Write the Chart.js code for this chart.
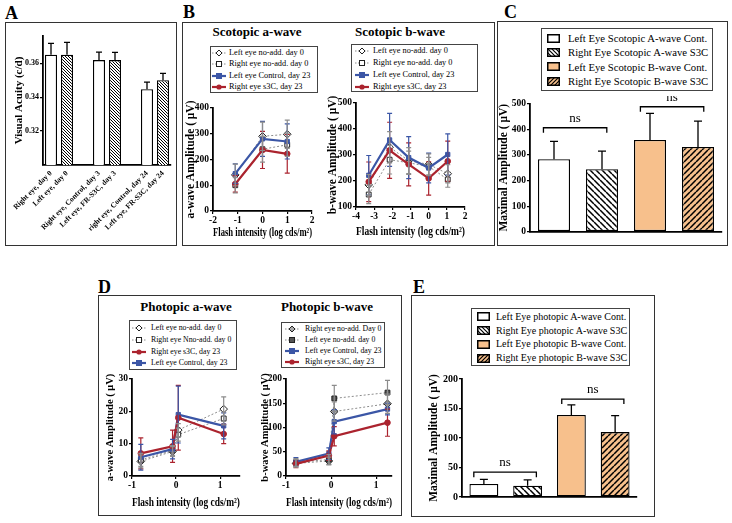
<!DOCTYPE html>
<html>
<head>
<meta charset="utf-8">
<script src="https://cdn.jsdelivr.net/npm/chart.js@4.4.1/dist/chart.umd.min.js"></script>
<style>
  body { margin: 0; background: #fff; }
  #fig { position: relative; width: 732px; height: 523px; overflow: hidden; background: #fff;
         font-family: "Liberation Serif", "Times New Roman", serif; color: #000; }
  .box { position: absolute; border: 1px solid #333; box-sizing: border-box; }
  .letter { position: absolute; font-weight: bold; font-size: 18px; line-height: 1; }
  .title { position: absolute; font-weight: bold; font-size: 13px; line-height: 1; white-space: nowrap; transform: translate(-50%, -50%); }
  .legend { position: absolute; border: 1px solid #444; box-sizing: border-box; background: #fff; }
  canvas { position: absolute; }
</style>
</head>
<body>
<div id="fig">
  <div class="box" style="left:5px;top:22px;width:172px;height:224px"></div>
  <div class="box" style="left:182px;top:22px;width:313px;height:224px"></div>
  <div class="box" style="left:497px;top:21px;width:231px;height:225px"></div>
  <div class="box" style="left:98px;top:295px;width:304px;height:221px"></div>
  <div class="box" style="left:411px;top:295px;width:244px;height:222px"></div>

  <div class="letter" style="left:5px;top:4px">A</div>
  <div class="letter" style="left:183px;top:3px">B</div>
  <div class="letter" style="left:504px;top:3px">C</div>
  <div class="letter" style="left:98px;top:278px">D</div>
  <div class="letter" style="left:413px;top:278px">E</div>

  <div class="title" style="left:257px;top:31px">Scotopic a-wave</div>
  <div class="title" style="left:400px;top:31px">Scotopic b-wave</div>
  <div class="title" style="left:186px;top:306px">Photopic a-wave</div>
  <div class="title" style="left:327px;top:306px">Photopic b-wave</div>
</div>
<script>
// ---------------- data ----------------
// A: visual acuity
const acuityCats = ['Right eye, day 0', 'Left eye, day 0', '', 'Right eye, Control, day 3', 'Left eye, FR-S3C, day 3', '', 'right eye, Control, day 24', 'Left eye, FR-S3C, day 24'];
const acuityMean = [0.365, 0.365, null, 0.3618, 0.3618, null, 0.3447, 0.350];
const acuityErr = [0.0067, 0.0072, null, 0.0047, 0.0045, null, 0.0041, 0.0040];
const acuityTicks = [0.32, 0.34, 0.36];

// B: scotopic a-wave
const scoAX = [-1.1, 0, 1];
const scoALeftNoAdd = [140, 290, 298];
const scoALeftNoAddErr = [42, 55, 55];
const scoARightNoAdd = [100, 240, 257];
const scoARightNoAddErr = [30, 50, 45];
const scoALeftControl = [145, 280, 270];
const scoALeftControlErr = [38, 68, 68];
const scoARightS3C = [105, 237, 222];
const scoARightS3CErr = [32, 72, 75];
const scoAXTicks = [-2, -1, 0, 1, 2];
const scoAYTicks = [0, 100, 200, 300, 400];

// B: scotopic b-wave
const scoBX = [-3.3, -2.15, -1.1, 0, 1.05];
const scoBLeftNoAdd = [185, 330, 278, 264, 228];
const scoBLeftNoAddErr = [40, 60, 50, 40, 35];
const scoBRightNoAdd = [148, 282, 270, 256, 206];
const scoBRightNoAddErr = [35, 55, 45, 35, 30];
const scoBLeftControl = [222, 358, 290, 250, 302];
const scoBLeftControlErr = [76, 102, 81, 57, 79];
const scoBRightS3C = [197, 318, 264, 210, 276];
const scoBRightS3CErr = [76, 108, 83, 64, 77];
const scoBXTicks = [-4, -3, -2, -1, 0, 1, 2];
const scoBYTicks = [100, 200, 300, 400, 500];

// C: scotopic maximal amplitude
const scoBarNames = ['Left Eye Scotopic A-wave Cont.', 'Right Eye Scotopic A-wave S3C', 'Left Eye Scotopic B-wave Cont.', 'Right Eye Scotopic B-wave S3C'];
const scoBarMean = [283, 244, 358, 331];
const scoBarErr = [70, 71, 104, 101];
const scoBarTicks = [0, 100, 200, 300, 400, 500];
const scoBrackets = [[-0.22, 1.1, 406], [1.8, 3.12, 488]];

// D: photopic a-wave
const phoAX = [-0.8, -0.08, 0.05, 1.08];
const phoALeftNoAdd = [4.5, 7.6, 14.2, 20.7];
const phoALeftNoAddErr = [2, 1.5, 2, 3.8];
const phoARightNoAdd = [5.0, 7.9, 12.8, 17.8];
const phoARightNoAddErr = [2, 1.5, 2, 2];
const phoARightS3C = [7.0, 9.2, 18.0, 13.0];
const phoARightS3CErr = [4.8, 5, 10, 3];
const phoALeftControl = [5.8, 8.3, 19.0, 15.5];
const phoALeftControlErr = [4, 3, 8.8, 4];
const phoAXTicks = [-1, 0, 1];
const phoAYTicks = [0, 10, 20, 30];

// D: photopic b-wave
const phoBX = [-0.78, -0.05, 0.07, 1.25];
const phoBRightNoAdd = [26, 31, 133, 149];
const phoBRightNoAddErr = [8, 8, 20, 20];
const phoBLeftNoAdd = [28, 34, 160, 172];
const phoBLeftNoAddErr = [8, 10, 27, 25];
const phoBLeftControl = [29, 46, 112, 138];
const phoBLeftControlErr = [9, 12, 25, 12];
const phoBRightS3C = [25, 42, 82, 110];
const phoBRightS3CErr = [8, 10, 20, 28];
const phoBXTicks = [-1, 0, 1];
const phoBYTicks = [0, 50, 100, 150, 200];

// E: photopic maximal amplitude
const phoBarNames = ['Left Eye photopic A-wave Cont.', 'Right Eye photopic A-wave S3C', 'Left Eye photopic B-wave Cont.', 'Right Eye photopic B-wave S3C'];
const phoBarMean = [22, 19, 139, 110];
const phoBarErr = [8, 10, 17, 28];
const phoBarTicks = [0, 50, 100, 150, 200];
const phoBrackets = [[-0.23, 1.2, 42], [1.78, 3.2, 166]];

// ---------------- styles ----------------
const SERIF = '"Liberation Serif", "Times New Roman", serif';
const GRAY = '#8c8c8c';
const BLUE = '#3b56a6';
const RED = '#ab232e';
const ORANGE = '#f7c08c';
const fig = document.getElementById('fig');

Chart.defaults.font.family = SERIF;
Chart.defaults.color = '#000';

const stDiamond = { color: GRAY, dash: [2, 2], width: 1, shape: 'diamond', fill: '#fff', stroke: '#222', r: 3.8, err: GRAY };
const stSquare = { color: GRAY, dash: [2, 2], width: 1, shape: 'square', fill: '#fff', stroke: '#222', r: 3.4, err: GRAY };
const stBlue = { color: BLUE, width: 2.2, shape: 'square', fill: BLUE, stroke: BLUE, r: 3, err: BLUE };
const stRed = { color: RED, width: 2.2, shape: 'circle', fill: RED, stroke: RED, r: 2.8, err: RED };
const stDiamondGray = { ...stDiamond, fill: '#aaa' };
const stSquareDark = { ...stSquare, fill: '#555' };

function hatch(bg, dir, gap, lw) {
  const t = document.createElement('canvas');
  t.width = gap; t.height = gap;
  const x = t.getContext('2d');
  x.fillStyle = bg; x.fillRect(0, 0, gap, gap);
  x.strokeStyle = '#000'; x.lineWidth = lw;
  x.beginPath();
  for (const k of [-gap, 0, gap]) {
    if (dir === '\\') { x.moveTo(k, 0); x.lineTo(k + gap, gap); }
    else { x.moveTo(k, gap); x.lineTo(k + gap, 0); }
  }
  x.stroke();
  return x.createPattern(t, 'repeat');
}

// ---------------- plugins ----------------
const errorBars = {
  id: 'errorBars',
  afterDatasetsDraw(chart) {
    const ctx = chart.ctx;
    chart.data.datasets.forEach((ds, i) => {
      if (!ds.errors) return;
      const meta = chart.getDatasetMeta(i);
      const ys = chart.scales[meta.yAxisID];
      ctx.save();
      ctx.strokeStyle = ds.errorColor;
      ctx.lineWidth = ds.errorWidth || 1.2;
      meta.data.forEach((el, j) => {
        const raw = ds.data[j];
        const v = raw && typeof raw === 'object' ? raw.y : raw;
        const e = ds.errors[j];
        if (v == null || e == null) return;
        const x = el.x;
        const yTop = ys.getPixelForValue(v + e);
        const yBot = ds.errorUp ? ys.getPixelForValue(v) : ys.getPixelForValue(v - e);
        const cap = ds.errorCap;
        ctx.beginPath();
        ctx.moveTo(x, yTop); ctx.lineTo(x, yBot);
        ctx.moveTo(x - cap, yTop); ctx.lineTo(x + cap, yTop);
        if (!ds.errorUp) { ctx.moveTo(x - cap, yBot); ctx.lineTo(x + cap, yBot); }
        ctx.stroke();
      });
      ctx.restore();
    });
  }
};

const brackets = {
  id: 'brackets',
  afterDraw(chart, args, opts) {
    if (!opts.items) return;
    const ctx = chart.ctx, xs = chart.scales.x, ys = chart.scales.y;
    ctx.save();
    ctx.strokeStyle = '#000'; ctx.lineWidth = 1.3;
    ctx.fillStyle = '#000';
    ctx.font = opts.fs + 'px ' + SERIF;
    ctx.textAlign = 'center'; ctx.textBaseline = 'bottom';
    opts.items.forEach(([a, b, v]) => {
      const x1 = xs.getPixelForValue(a), x2 = xs.getPixelForValue(b), y = ys.getPixelForValue(v);
      ctx.beginPath();
      ctx.moveTo(x1, y + 5); ctx.lineTo(x1, y); ctx.lineTo(x2, y); ctx.lineTo(x2, y + 5);
      ctx.stroke();
      ctx.fillText('ns', (x1 + x2) / 2, y - 3);
    });
    ctx.restore();
  }
};
Chart.register(errorBars, brackets);

// ---------------- helpers ----------------
function makeCanvas(cv) {
  const c = document.createElement('canvas');
  c.width = cv.w; c.height = cv.h;
  c.style.left = cv.x + 'px'; c.style.top = cv.y + 'px';
  c.style.width = cv.w + 'px'; c.style.height = cv.h + 'px';
  fig.appendChild(c);
  return c;
}

function axis(dir, o, size) {
  const lh = (o.tfs || 10) * 1.2;
  return {
    type: o.cat ? 'category' : 'linear',
    min: o.min, max: o.max,
    offset: !!o.cat,
    afterFit: s => { if (dir === 'x') s.height = size; else s.width = size; },
    afterBuildTicks: o.ticks ? s => { s.ticks = o.ticks.map(v => ({ value: v })); } : undefined,
    grid: { display: !o.noMarks, drawOnChartArea: false, drawTicks: true, tickLength: 3, color: '#000', lineWidth: 1.2 },
    border: { display: true, color: '#000', width: 1.8 },
    ticks: { display: !!o.fs, font: { size: o.fs || 1, weight: 'bold', family: SERIF }, color: '#000',
             padding: 1, autoSkip: false, maxRotation: o.rot || 0, minRotation: o.rot || 0 },
    title: o.title ? { display: true, text: o.title, color: '#000',
                       font: { size: o.tfs, weight: 'bold', family: SERIF },
                       padding: dir === 'x' ? { top: 0, bottom: o.tpos - lh / 2 } : { top: o.tpos - lh / 2, bottom: 0 } }
                   : { display: false }
  };
}

function baseOptions(cv, area, xo, yo, extra) {
  return {
    responsive: false, animation: false, events: [],
    layout: { padding: { left: 0, bottom: 0, top: area.t - cv.y, right: cv.x + cv.w - area.r } },
    plugins: Object.assign({ legend: { display: false }, tooltip: { enabled: false } }, extra || {}),
    scales: {
      x: axis('x', Object.assign({}, xo, { tpos: xo.title ? cv.y + cv.h - xo.tc : 0 }), cv.y + cv.h - area.b),
      y: axis('y', Object.assign({}, yo, { tpos: yo.title ? yo.tc - cv.x : 0 }), area.l - cv.x)
    }
  };
}

function lineSet(xs, ys, errs, st) {
  return {
    data: xs.map((x, i) => ({ x, y: ys[i] })),
    showLine: true,
    borderColor: st.color, borderWidth: st.width, borderDash: st.dash || [],
    pointStyle: st.shape === 'diamond' ? 'rectRot' : st.shape === 'square' ? 'rect' : 'circle',
    pointRadius: st.r, pointBackgroundColor: st.fill, pointBorderColor: st.stroke, pointBorderWidth: 1,
    errors: errs, errorColor: st.err, errorCap: 2.5
  };
}

function lineChart(cv, area, xo, yo, sets) {
  new Chart(makeCanvas(cv), { type: 'scatter', data: { datasets: sets }, options: baseOptions(cv, area, xo, yo) });
}

function barChart(cv, area, xo, yo, cats, vals, errs, fills, barPct, extra) {
  new Chart(makeCanvas(cv), {
    type: 'bar',
    data: { labels: cats, datasets: [{ data: vals, backgroundColor: fills, borderColor: '#000', borderWidth: 1.3,
            borderSkipped: false, barPercentage: barPct, categoryPercentage: 1,
            errors: errs, errorUp: true, errorColor: '#000', errorWidth: 1.3, errorCap: xo.cap }] },
    options: baseOptions(cv, area, xo, yo, extra)
  });
}

function markerSVG(m, w, h) {
  if (m.bar) {
    const id = 'p' + Math.random().toString(36).slice(2);
    let pat = '';
    if (m.hatch) {
      pat = `<defs><pattern id="${id}" patternUnits="userSpaceOnUse" width="4" height="4"><rect width="4" height="4" fill="${m.bg}"/>` +
            (m.hatch === '\\' ? `<path d="M-1,-1 L5,5 M-1,3 L1,5 M3,-1 L5,1" stroke="#000" stroke-width="1.2"/>`
                              : `<path d="M-1,5 L5,-1 M-1,1 L1,-1 M3,5 L5,3" stroke="#000" stroke-width="1.2"/>`) +
            `</pattern></defs>`;
    }
    return `<svg width="${w}" height="${h}">${pat}<rect x="0.75" y="0.75" width="${w - 1.5}" height="${h - 1.5}" fill="${m.hatch ? `url(#${id})` : m.bg}" stroke="#000" stroke-width="1.5"/></svg>`;
  }
  const c = w / 2, y = h / 2, st = m.st;
  let shape = '';
  if (st.shape === 'diamond') shape = `<polygon points="${c},${y - 3} ${c + 3},${y} ${c},${y + 3} ${c - 3},${y}" fill="${st.fill}" stroke="${st.stroke}" stroke-width="1"/>`;
  else if (st.shape === 'square') shape = `<rect x="${c - 2.5}" y="${y - 2.5}" width="5" height="5" fill="${st.fill}" stroke="${st.stroke}" stroke-width="1"/>`;
  else shape = `<circle cx="${c}" cy="${y}" r="2.6" fill="${st.fill}"/>`;
  const dash = st.dash ? `stroke-dasharray="1.5,1.5"` : '';
  return `<svg width="${w}" height="${h}"><line x1="0" y1="${y}" x2="${w}" y2="${y}" stroke="${st.color}" stroke-width="${st.width}" ${dash}/>${shape}</svg>`;
}

function addLegend(spec, items) {
  const box = document.createElement('div');
  box.className = 'legend';
  Object.assign(box.style, { left: spec.x + 'px', top: spec.y + 'px', width: spec.w + 'px', height: spec.h + 'px', fontSize: spec.fs + 'px' });
  items.forEach((it, i) => {
    const cy = spec.rows[i] - spec.y - 1;
    const m = document.createElement('div');
    m.style.cssText = `position:absolute;left:${spec.mx - spec.x - 1}px;top:${cy - spec.mh / 2}px;width:${spec.mw}px;height:${spec.mh}px;line-height:0`;
    m.innerHTML = markerSVG(it.m, spec.mw, spec.mh);
    const t = document.createElement('div');
    t.style.cssText = `position:absolute;left:${spec.tx - spec.x - 1}px;top:${cy}px;transform:translateY(-50%);white-space:nowrap;line-height:1`;
    t.textContent = it.label;
    box.append(m, t);
  });
  fig.appendChild(box);
}

// ---------------- A ----------------
const hatchA = hatch('#fff', '\\', 3, 1);
barChart({ x: 6, y: 24, w: 168, h: 220 }, { l: 43, r: 171, t: 36, b: 165 },
  { cat: true, fs: 7.5, rot: 45, noMarks: true, cap: 3 },
  { min: 0.30, max: 0.376, ticks: acuityTicks, fs: 8, title: 'Visual Acuity (c/d)', tfs: 11, tc: 19 },
  acuityCats, acuityMean, acuityErr, ['#fff', hatchA, null, '#fff', hatchA, null, '#fff', hatchA], 0.75);

// ---------------- B ----------------
const flashTitle = 'Flash intensity (log cds/m²)';
lineChart({ x: 184, y: 96, w: 133, h: 146 }, { l: 213, r: 313, t: 108, b: 211 },
  { min: -2, max: 2, ticks: scoAXTicks, fs: 9.5, title: flashTitle, tfs: 12.5, tc: 233 },
  { min: 0, max: 400, ticks: scoAYTicks, fs: 9.5, title: 'a-wave Amplitude ( μV)', tfs: 11.5, tc: 191 },
  [lineSet(scoAX, scoARightS3C, scoARightS3CErr, stRed),
   lineSet(scoAX, scoALeftControl, scoALeftControlErr, stBlue),
   lineSet(scoAX, scoARightNoAdd, scoARightNoAddErr, stSquare),
   lineSet(scoAX, scoALeftNoAdd, scoALeftNoAddErr, stDiamond)]);

lineChart({ x: 322, y: 92, w: 152, h: 150 }, { l: 356, r: 465, t: 103, b: 207 },
  { min: -4, max: 2, ticks: scoBXTicks, fs: 9.5, title: flashTitle, tfs: 12.5, tc: 232 },
  { min: 100, max: 500, ticks: scoBYTicks, fs: 9.5, title: 'b-wave Amplitude ( μV)', tfs: 11.5, tc: 333 },
  [lineSet(scoBX, scoBRightS3C, scoBRightS3CErr, stRed),
   lineSet(scoBX, scoBLeftControl, scoBLeftControlErr, stBlue),
   lineSet(scoBX, scoBRightNoAdd, scoBRightNoAddErr, stSquare),
   lineSet(scoBX, scoBLeftNoAdd, scoBLeftNoAddErr, stDiamond)]);

const legScoItems = [
  { label: 'Left eye no-add. day 0', m: { st: stDiamond } },
  { label: 'Right eye no-add. day 0', m: { st: stSquare } },
  { label: 'Left eye Control, day 23', m: { st: stBlue } },
  { label: 'Right eye s3C, day 23', m: { st: stRed } }];
addLegend({ x: 210, y: 46, w: 108, h: 47, fs: 8.3, rows: [52.5, 64, 75.5, 87], mx: 212, mw: 14, mh: 8, tx: 229 }, legScoItems);
addLegend({ x: 351, y: 44, w: 127, h: 48, fs: 8.3, rows: [50.5, 62.5, 74.5, 86.5], mx: 355, mw: 14, mh: 8, tx: 373 }, legScoItems);

// ---------------- C ----------------
const hatchW = hatch('#fff', '\\', 6, 1.5);
const hatchO = hatch(ORANGE, '/', 6, 1.5);
const barFills = ['#fff', hatchW, ORANGE, hatchO];
const barMarks = [{ bar: true, bg: '#fff' }, { bar: true, bg: '#fff', hatch: '\\' }, { bar: true, bg: ORANGE }, { bar: true, bg: ORANGE, hatch: '/' }];
barChart({ x: 498, y: 96, w: 228, h: 146 }, { l: 530, r: 722, t: 103.7, b: 231.7 },
  { cat: true, noMarks: true, cap: 4 },
  { min: 0, max: 500, ticks: scoBarTicks, fs: 9.5, title: 'Maximal Amplitude ( μV)', tfs: 11.5, tc: 504 },
  scoBarNames, scoBarMean, scoBarErr, barFills, 0.667, { brackets: { items: scoBrackets, fs: 13 } });
addLegend({ x: 541, y: 28, w: 172, h: 63, fs: 10.7, rows: [38, 52, 66.5, 81], mx: 547, mw: 13, mh: 9, tx: 568 },
  scoBarNames.map((n, i) => ({ label: n, m: barMarks[i] })));

// ---------------- D ----------------
lineChart({ x: 99, y: 370, w: 148, h: 144 }, { l: 132, r: 240, t: 379, b: 476 },
  { min: -1, max: 1.45, ticks: phoAXTicks, fs: 9.5, title: flashTitle, tfs: 12, tc: 503 },
  { min: 0, max: 30, ticks: phoAYTicks, fs: 9.5, title: 'a-wave Amplitude ( μV)', tfs: 10.5, tc: 110 },
  [lineSet(phoAX, phoARightS3C, phoARightS3CErr, stRed),
   lineSet(phoAX, phoALeftControl, phoALeftControlErr, stBlue),
   lineSet(phoAX, phoARightNoAdd, phoARightNoAddErr, stSquare),
   lineSet(phoAX, phoALeftNoAdd, phoALeftNoAddErr, stDiamond)]);
addLegend({ x: 129, y: 320, w: 108, h: 50, fs: 7.8, rows: [327.5, 339.5, 351.5, 363], mx: 132, mw: 14, mh: 8, tx: 151 }, [
  { label: 'Left eye no-add. day 0', m: { st: stDiamond } },
  { label: 'Right eye Nno-add. day 0', m: { st: stSquare } },
  { label: 'Right eye s3C, day 23', m: { st: stRed } },
  { label: 'Left eye Control, day 23', m: { st: stBlue } }]);

lineChart({ x: 252, y: 370, w: 145, h: 144 }, { l: 286, r: 392, t: 379, b: 476 },
  { min: -1, max: 1.35, ticks: phoBXTicks, fs: 9.5, title: flashTitle, tfs: 12, tc: 503 },
  { min: 0, max: 200, ticks: phoBYTicks, fs: 9.5, title: 'b-wave Amplitude ( μV)', tfs: 10.5, tc: 265 },
  [lineSet(phoBX, phoBRightS3C, phoBRightS3CErr, stRed),
   lineSet(phoBX, phoBLeftControl, phoBLeftControlErr, stBlue),
   lineSet(phoBX, phoBLeftNoAdd, phoBLeftNoAddErr, stSquareDark),
   lineSet(phoBX, phoBRightNoAdd, phoBRightNoAddErr, stDiamondGray)]);
addLegend({ x: 281, y: 322, w: 104, h: 46, fs: 7.8, rows: [329, 340, 351, 362], mx: 285, mw: 14, mh: 8, tx: 305 }, [
  { label: 'Right eye no-add. Day 0', m: { st: stDiamondGray } },
  { label: 'Left eye no-add. day 0', m: { st: stSquareDark } },
  { label: 'Left eye Control, day 23', m: { st: stBlue } },
  { label: 'Right eye s3C, day 23', m: { st: stRed } }]);

// ---------------- E ----------------
barChart({ x: 416, y: 370, w: 224, h: 142 }, { l: 462, r: 637, t: 379, b: 497 },
  { cat: true, noMarks: true, cap: 4 },
  { min: 0, max: 200, ticks: phoBarTicks, fs: 10, title: 'Maximal Amplitude ( μV)', tfs: 11.5, tc: 434 },
  phoBarNames, phoBarMean, phoBarErr, barFills, 0.66, { brackets: { items: phoBrackets, fs: 13 } });
addLegend({ x: 471, y: 308, w: 159, h: 58, fs: 10, rows: [316.7, 330.7, 344.3, 358.3], mx: 477, mw: 13, mh: 9, tx: 496 },
  phoBarNames.map((n, i) => ({ label: n, m: barMarks[i] })));
</script>
</body>
</html>
